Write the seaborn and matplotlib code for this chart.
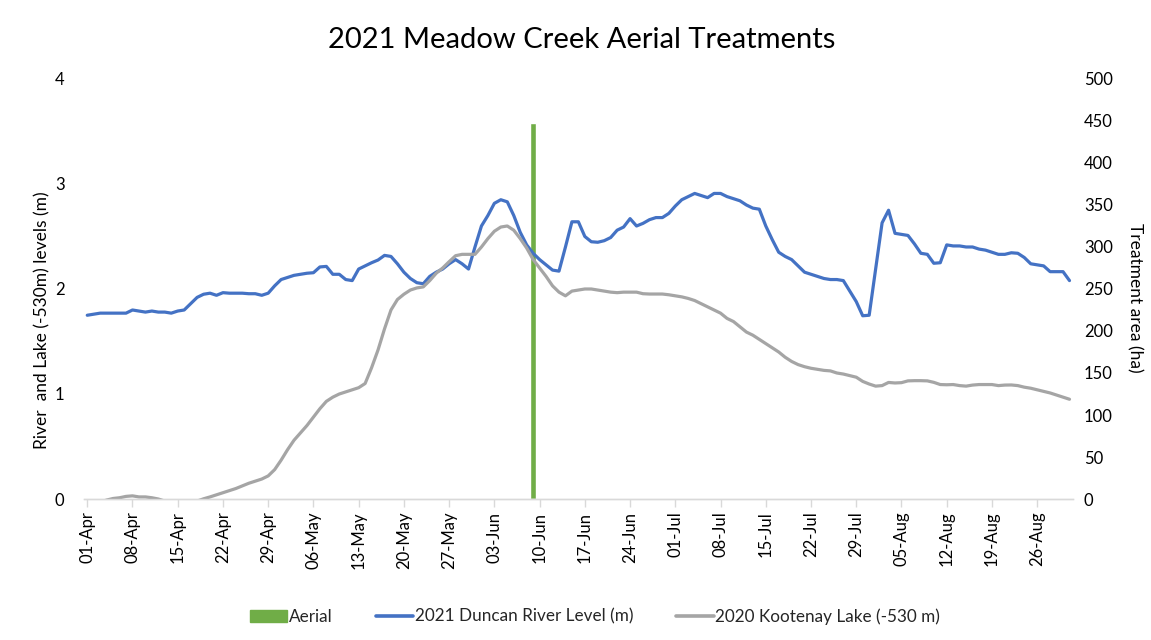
import numpy as np
import pandas as pd
import matplotlib
matplotlib.use("Agg")
import matplotlib.pyplot as plt
import seaborn as sns
from matplotlib.patches import Patch
from matplotlib.lines import Line2D

# ---------------- data ----------------
dates = pd.date_range("2021-04-01", "2021-08-31", freq="D")

river_2021 = [
    1.75, 1.76, 1.77, 1.77, 1.77, 1.77, 1.77, 1.80, 1.79, 1.78,
    1.79, 1.78, 1.78, 1.77, 1.79, 1.80, 1.86, 1.92, 1.95, 1.96,
    1.94, 1.965, 1.96, 1.96, 1.96, 1.955, 1.955, 1.94, 1.96, 2.03,
    2.09, 2.11, 2.13, 2.14, 2.15, 2.155, 2.21, 2.215, 2.14, 2.14,
    2.09, 2.08, 2.19, 2.22, 2.25, 2.276, 2.32, 2.31, 2.24, 2.16,
    2.10, 2.06, 2.05, 2.12, 2.16, 2.19, 2.24, 2.28, 2.24, 2.19,
    2.40, 2.60, 2.70, 2.816, 2.85, 2.83, 2.70, 2.54, 2.42, 2.34,
    2.28, 2.23, 2.18, 2.17, 2.40, 2.64, 2.64, 2.50, 2.45, 2.445,
    2.46, 2.49, 2.56, 2.59, 2.67, 2.60, 2.625, 2.66, 2.68, 2.68,
    2.72, 2.79, 2.85, 2.88, 2.91, 2.89, 2.87, 2.91, 2.91, 2.88,
    2.86, 2.84, 2.80, 2.77, 2.76, 2.60, 2.47, 2.35, 2.31, 2.28,
    2.22, 2.16, 2.14, 2.12, 2.10, 2.09, 2.09, 2.08, 1.98, 1.88,
    1.745, 1.75, 2.19, 2.63, 2.75, 2.53, 2.52, 2.51, 2.43, 2.34,
    2.33, 2.245, 2.25, 2.42, 2.41, 2.41, 2.40, 2.40, 2.38, 2.37,
    2.35, 2.33, 2.33, 2.345, 2.34, 2.30, 2.24, 2.23, 2.22, 2.165,
    2.165, 2.165, 2.08,
]

lake_2020 = [
    -0.06, -0.05, -0.03, -0.01, 0.005, 0.012, 0.025, 0.03, 0.02, 0.02,
    0.012, 0.0, -0.02, -0.04, -0.04, -0.04, -0.04, -0.02, 0.002, 0.02,
    0.04, 0.06, 0.08, 0.10, 0.125, 0.15, 0.17, 0.19, 0.22, 0.28,
    0.37, 0.47, 0.56, 0.63, 0.70, 0.78, 0.86, 0.93, 0.97, 1.00,
    1.02, 1.04, 1.06, 1.10, 1.25, 1.42, 1.62, 1.80, 1.90, 1.95,
    1.99, 2.01, 2.02, 2.08, 2.15, 2.20, 2.26, 2.317, 2.33, 2.33,
    2.33, 2.40, 2.48, 2.55, 2.59, 2.60, 2.56, 2.48, 2.39, 2.28,
    2.20, 2.12, 2.03, 1.97, 1.935, 1.98, 1.99, 2.00, 2.00, 1.99,
    1.98, 1.97, 1.965, 1.97, 1.97, 1.97, 1.955, 1.952, 1.952, 1.952,
    1.945, 1.935, 1.925, 1.91, 1.89, 1.86, 1.83, 1.80, 1.77, 1.72,
    1.69, 1.64, 1.59, 1.56, 1.52, 1.48, 1.44, 1.40, 1.35, 1.31,
    1.28, 1.26, 1.245, 1.235, 1.225, 1.22, 1.20, 1.19, 1.175, 1.16,
    1.12, 1.095, 1.075, 1.08, 1.11, 1.105, 1.108, 1.125, 1.127, 1.127,
    1.125, 1.111, 1.09, 1.088, 1.09, 1.08, 1.075, 1.085, 1.09, 1.09,
    1.09, 1.08, 1.085, 1.086, 1.08, 1.065, 1.055, 1.04, 1.025, 1.01,
    0.99, 0.97, 0.95,
]

aerial_dates = ["2021-06-09"]
aerial_area = [447]

tick_labels = ["01-Apr", "08-Apr", "15-Apr", "22-Apr", "29-Apr", "06-May",
               "13-May", "20-May", "27-May", "03-Jun", "10-Jun", "17-Jun",
               "24-Jun", "01-Jul", "08-Jul", "15-Jul", "22-Jul", "29-Jul",
               "05-Aug", "12-Aug", "19-Aug", "26-Aug"]

# ---------------- frames ----------------
day = np.arange(len(dates))
df = pd.DataFrame({"day": day, "river": river_2021, "lake": lake_2020})
aer = pd.DataFrame({
    "day": [(pd.Timestamp(d) - dates[0]).days for d in aerial_dates],
    "area": aerial_area,
})

# ---------------- style ----------------
sns.set_theme(style="white")
plt.rcParams["font.family"] = ["Lato", "DejaVu Sans"]

BLUE = "#4472C4"
GREY = "#A5A5A5"
GREEN = "#70AD47"
TXT = "#000000"

fig = plt.figure(figsize=(11.51, 6.40), dpi=100)
ax = fig.add_axes([0.073, 0.2203, 0.859, 0.6563])
ax2 = ax.twinx()

# bar on secondary axis (drawn beneath lines)
ax2.bar(aer["day"], aer["area"], width=0.93, color=GREEN, zorder=1)
ax2.set_ylim(0, 500)
ax2.set_yticks(np.arange(0, 501, 50))

sns.lineplot(data=df, x="day", y="river", ax=ax, color=BLUE, linewidth=2.3)
sns.lineplot(data=df, x="day", y="lake", ax=ax, color=GREY, linewidth=2.3)

ax.set_zorder(ax2.get_zorder() + 1)
ax.patch.set_visible(False)

ax.set_xlim(-0.5, len(dates) - 0.5)
ax.set_ylim(0, 4)
ax.set_yticks([0, 1, 2, 3, 4])
ax.set_xticks(day[::7])
ax.set_xticklabels(tick_labels, rotation=90)
ax.set_xlabel("")
ax.set_ylabel("")
ax2.set_ylabel("")

for a in (ax, ax2):
    for s in ("top", "left", "right"):
        a.spines[s].set_visible(False)
    a.spines["bottom"].set_color("#D9D9D9")
    a.spines["bottom"].set_linewidth(1.0)
    a.grid(False)

ax.tick_params(axis="x", bottom=True, length=6, width=1, color="#D9D9D9",
               labelsize=12, labelcolor=TXT, pad=3)
ax.tick_params(axis="y", left=False, labelsize=12, labelcolor=TXT, pad=8)
ax2.tick_params(axis="y", right=False, labelsize=12, labelcolor=TXT, pad=2)
ax2.tick_params(axis="x", bottom=False)

fig.text(0.505, 0.937, "2021 Meadow Creek Aerial Treatments", ha="center",
         va="center", fontsize=21, color=TXT)
fig.text(0.037, 0.5, "River  and Lake (-530m) levels (m)", rotation=90,
         ha="center", va="center", fontsize=12.5, color=TXT)
fig.text(0.986, 0.535, "Treatment area (ha)", rotation=-90,
         ha="center", va="center", fontsize=12.5, color=TXT)

handles = [
    Patch(facecolor=GREEN, edgecolor=GREEN, label="Aerial"),
    Line2D([0], [0], color=BLUE, lw=2.6, label="2021 Duncan River Level (m)"),
    Line2D([0], [0], color=GREY, lw=2.6, label="2020 Kootenay Lake (-530 m)"),
]
fig.legend(handles=handles, loc="center", bbox_to_anchor=(0.517, 0.037),
           ncol=3, frameon=False, fontsize=12.3, handlelength=2.2,
           handletextpad=0.1, columnspacing=2.5)

fig.savefig("out.png", dpi=100)
